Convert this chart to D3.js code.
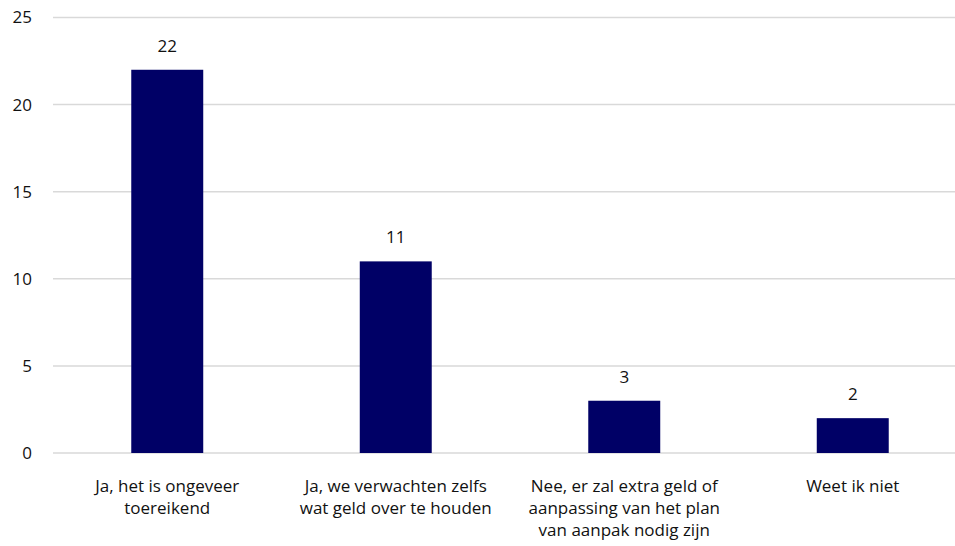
<!DOCTYPE html>
<html>
<head>
<meta charset="utf-8">
<script src="https://cdn.jsdelivr.net/npm/d3@7"></script>
<style>
  html, body { margin: 0; padding: 0; background: #fff; }
  svg text { font-family: "Open Sans", "Noto Sans", sans-serif; fill: #111; }
</style>
</head>
<body>
<div id="chart"></div>
<script>
// categorieën (regels gescheiden door \n) en aantallen
const categorieen = [
    'Ja, het is ongeveer\ntoereikend',
    'Ja, we verwachten zelfs\nwat geld over te houden',
    'Nee, er zal extra geld of\naanpassing van het plan\nvan aanpak nodig zijn',
    'Weet ik niet'
];
const aantallen = [22, 11, 3, 2];
const yTicks = [0, 5, 10, 15, 20, 25];

const width = 955, height = 546;
const fontSize = '17px';

const svg = d3.select('#chart').append('svg')
    .attr('width', width)
    .attr('height', height);

const x = d3.scaleBand()
    .domain(categorieen)
    .range([53, 967])
    .paddingInner(0.685)
    .paddingOuter(0.3425);

const y = d3.scaleLinear()
    .domain([0, 25])
    .range([453, 17.5]);

// rasterlijnen
svg.append('g')
    .selectAll('line')
    .data(yTicks)
    .enter()
    .append('line')
    .attr('x1', 53)
    .attr('x2', width)
    .attr('y1', d => y(d))
    .attr('y2', d => y(d))
    .attr('stroke', '#d9d9d9')
    .attr('stroke-width', 1.5);

// y-as labels
svg.append('g')
    .selectAll('text')
    .data(yTicks)
    .enter()
    .append('text')
    .attr('x', 32)
    .attr('y', d => y(d))
    .attr('dy', '0.35em')
    .attr('text-anchor', 'end')
    .attr('font-size', fontSize)
    .text(d => d);

// staven
svg.append('g')
    .selectAll('rect')
    .data(aantallen)
    .enter()
    .append('rect')
    .attr('x', (_, i) => x(categorieen[i]))
    .attr('width', x.bandwidth())
    .attr('y', d => y(d))
    .attr('height', d => y(0) - y(d))
    .attr('fill', '#000066');

// waardelabels
svg.append('g')
    .selectAll('text')
    .data(aantallen)
    .enter()
    .append('text')
    .attr('x', (_, i) => x(categorieen[i]) + x.bandwidth() / 2)
    .attr('y', d => y(d) - 18)
    .attr('text-anchor', 'middle')
    .attr('font-size', fontSize)
    .text(d => d);

// categorielabels
const cat = svg.append('g')
    .selectAll('text')
    .data(categorieen)
    .enter()
    .append('text')
    .attr('x', d => x(d) + x.bandwidth() / 2)
    .attr('y', 492)
    .attr('text-anchor', 'middle')
    .attr('font-size', fontSize);

cat.selectAll('tspan')
    .data(d => d.split('\n'))
    .enter()
    .append('tspan')
    .attr('x', function () { return d3.select(this.parentNode).attr('x'); })
    .attr('dy', (_, i) => i === 0 ? 0 : 22)
    .text(d => d);
</script>
</body>
</html>
